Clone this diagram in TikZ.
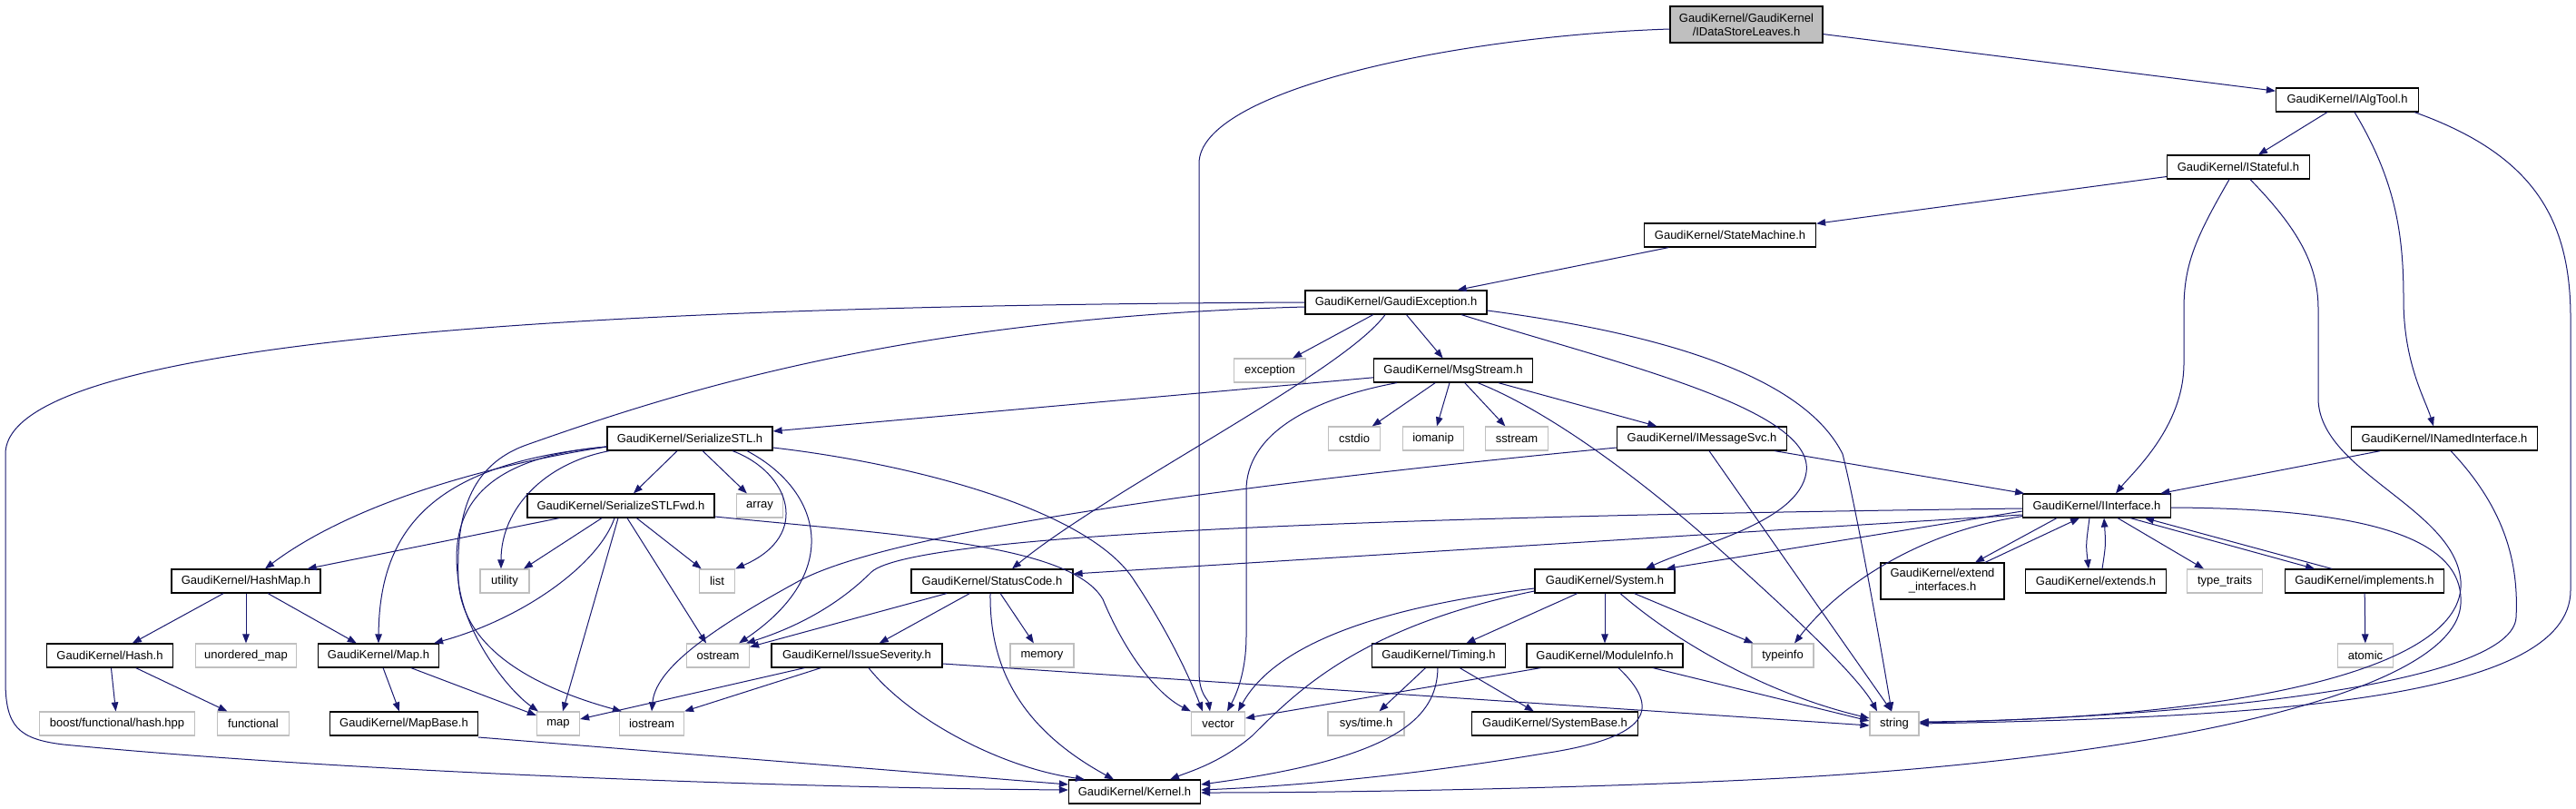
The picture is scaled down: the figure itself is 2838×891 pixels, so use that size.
\documentclass[tikz,border=0pt]{standalone}
\usepackage{fontspec}
\setmainfont{Liberation Sans}
\usetikzlibrary{arrows.meta,calc}
\definecolor{edgec}{HTML}{191970}
\definecolor{greyc}{HTML}{BFBFBF}
\begin{document}
\begin{tikzpicture}[x=1pt,y=-1pt,
  hdr/.style={draw=black,line width=1.2pt,fill=white,rectangle,inner sep=0pt,minimum height=26pt,font=\fontsize{13}{15}\selectfont},
  sys/.style={hdr,draw=greyc},
  e/.style={draw=edgec,line width=1pt,-{Triangle[length=10pt,width=7.5pt]}}]
\useasboundingbox (0,0) rectangle (2838,891);
\fill[white] (0,0) rectangle (2838,891);
% nodes
\node[hdr,fill=greyc,minimum width=168pt,minimum height=40pt,align=center] (root) at (1924,27) {GaudiKernel/GaudiKernel\\/IDataStoreLeaves.h};
\node[hdr,minimum width=157pt] (ialg) at (2586,110) {GaudiKernel/IAlgTool.h};
\node[hdr,minimum width=157pt] (istate) at (2466,184) {GaudiKernel/IStateful.h};
\node[hdr,minimum width=189pt] (smach) at (1906,259) {GaudiKernel/StateMachine.h};
\node[hdr,minimum width=200pt] (gexc) at (1538,333) {GaudiKernel/GaudiException.h};
\node[sys,minimum width=79pt] (exc) at (1399,408) {exception};
\node[hdr,minimum width=175pt] (msg) at (1601,408) {GaudiKernel/MsgStream.h};
\node[sys,minimum width=57pt] (cstdio) at (1492,483) {cstdio};
\node[sys,minimum width=67pt] (iomanip) at (1579,483) {iomanip};
\node[sys,minimum width=69pt] (sstream) at (1671,483) {sstream};
\node[hdr,minimum width=187pt] (imsg) at (1875,483) {GaudiKernel/IMessageSvc.h};
\node[hdr,minimum width=205pt] (inamed) at (2693,483) {GaudiKernel/INamedInterface.h};
\node[hdr,minimum width=182pt] (stl) at (760,483) {GaudiKernel/SerializeSTL.h};
\node[hdr,minimum width=206pt] (stlfwd) at (684,557) {GaudiKernel/SerializeSTLFwd.h};
\node[sys,minimum width=51pt] (array) at (837,557) {array};
\node[hdr,minimum width=163pt] (iint) at (2310,557) {GaudiKernel/IInterface.h};
\node[hdr,minimum width=164pt] (hashmap) at (271,640) {GaudiKernel/HashMap.h};
\node[sys,minimum width=54pt] (utility) at (556,640) {utility};
\node[sys,minimum width=39pt] (list) at (790,640) {list};
\node[hdr,minimum width=178pt] (status) at (1093,640) {GaudiKernel/StatusCode.h};
\node[hdr,minimum width=154pt] (system) at (1768,640) {GaudiKernel/System.h};
\node[hdr,minimum width=136pt,minimum height=40pt,align=center] (extint) at (2140,640) {GaudiKernel/extend\\\_interfaces.h};
\node[hdr,minimum width=155pt] (extends) at (2309,640) {GaudiKernel/extends.h};
\node[sys,minimum width=83pt] (typetraits) at (2451,640) {type\_traits};
\node[hdr,minimum width=175pt] (impl) at (2605,640) {GaudiKernel/implements.h};
\node[hdr,minimum width=139pt] (hash) at (121,722) {GaudiKernel/Hash.h};
\node[sys,minimum width=111pt] (umap) at (271,722) {unordered\_map};
\node[hdr,minimum width=133pt] (mapH) at (417,722) {GaudiKernel/Map.h};
\node[sys,minimum width=69pt] (ostream) at (791,722) {ostream};
\node[hdr,minimum width=188pt] (issue) at (944,722) {GaudiKernel/IssueSeverity.h};
\node[sys,minimum width=70pt] (memory) at (1148,722) {memory};
\node[hdr,minimum width=147pt] (timing) at (1585,722) {GaudiKernel/Timing.h};
\node[hdr,minimum width=172pt] (modinfo) at (1768,722) {GaudiKernel/ModuleInfo.h};
\node[sys,minimum width=68pt] (typeinfo) at (1964,722) {typeinfo};
\node[sys,minimum width=61pt] (atomic) at (2606,722) {atomic};
\node[sys,minimum width=171pt] (boost) at (129,797) {boost/functional/hash.hpp};
\node[sys,minimum width=79pt] (functional) at (279,797) {functional};
\node[hdr,minimum width=163pt] (mapbase) at (445,797) {GaudiKernel/MapBase.h};
\node[sys,minimum width=47pt] (map) at (615,797) {map};
\node[sys,minimum width=71pt] (iostream) at (718,797) {iostream};
\node[sys,minimum width=59pt] (vector) at (1342,797) {vector};
\node[sys,minimum width=84pt] (systime) at (1505,797) {sys/time.h};
\node[hdr,minimum width=183pt] (sysbase) at (1713,797) {GaudiKernel/SystemBase.h};
\node[sys,minimum width=54pt] (string) at (2087,797) {string};
\node[hdr,minimum width=145pt] (kernel) at (1250,872) {GaudiKernel/Kernel.h};
% root
\draw[e] (root) -- (ialg);
\draw[e] ($(root.west)+(0,5)$) .. controls (1600,40) and (1321,100) .. (1321,180) -- (1321,740) .. controls (1321,765) and (1331,770) .. ($(vector.north)+(-9,0)$);
% IAlgTool
\draw[e] (ialg) -- (istate);
\draw[e] ($(ialg.south)+(8,0)$) .. controls (2640,200) and (2648,260) .. (2648,330) .. controls (2648,400) and (2672,440) .. ($(inamed.north)+(-12,0)$);
\draw[e] ($(ialg.south east)+(-5,0)$) .. controls (2790,170) and (2832,240) .. (2832,350) -- (2832,650) .. controls (2832,770) and (2500,790) .. (string.east);
% IStateful
\draw[e] (istate) -- (smach);
\draw[e] ($(istate.south)+(-10,0)$) .. controls (2420,260) and (2406,290) .. (2406,340) -- (2406,400) .. controls (2406,470) and (2350,520) .. ($(iint.north)+(21,0)$);
\draw[e] ($(istate.south)+(13,0)$) .. controls (2530,250) and (2554,290) .. (2554,340) -- (2554,440) .. controls (2556,520) and (2705,560) .. (2711,640) .. controls (2718,740) and (2450,792) .. ($(string.east)+(0,-2)$);
% StateMachine
\draw[e] (smach) -- (gexc);
% GaudiException
\draw[e] (gexc) -- (exc);
\draw[e] (gexc) -- (msg);
\draw[e] ($(gexc.south)+(-12,0)$) .. controls (1480,410) and (1220,540) .. ($(status.north)+(22,0)$);
\draw[e] ($(gexc.south)+(72,0)$) .. controls (1780,400) and (2000,450) .. (1990,520) .. controls (1982,575) and (1870,600) .. ($(system.north)+(45,0)$);
\draw[e] ($(gexc.east)+(0,9)$) .. controls (1850,370) and (1990,420) .. (2030,500) .. controls (2045,560) and (2070,700) .. ($(string.north)+(-3,0)$);
\draw[e] (gexc.west) .. controls (800,336) and (6,360) .. (6,500) -- (6,750) .. controls (6,800) and (20,814) .. (70,820) .. controls (400,852) and (900,868) .. ($(kernel.west)+(0,-2)$);
\draw[e] ($(gexc.west)+(0,5)$) .. controls (1000,350) and (750,430) .. (580,490) .. controls (510,515) and (503,580) .. (505,640) .. controls (510,720) and (600,760) .. ($(iostream.north west)+(3,0)$);
% MsgStream
\draw[e] (msg) -- (stl);
\draw[e] (msg) -- (cstdio);
\draw[e] (msg) -- (iomanip);
\draw[e] (msg) -- (sstream);
\draw[e] (msg) -- (imsg);
\draw[e] ($(msg.south)+(-62,0)$) .. controls (1440,440) and (1373,480) .. (1373,540) -- (1373,700) .. controls (1373,740) and (1362,765) .. ($(vector.north)+(10,0)$);
\draw[e] ($(msg.south)+(27,0)$) .. controls (1700,450) and (1800,520) .. (1900,610) .. controls (1990,690) and (2050,750) .. ($(string.north)+(-19,0)$);
% IMessageSvc
\draw[e] ($(imsg.west)+(0,10)$) .. controls (1500,520) and (1000,575) .. (880,640) .. controls (770,700) and (722,740) .. (iostream.north);
\draw[e] ($(imsg.south)+(8,0)$) -- ($(string.north)+(-3,0)$);
\draw[e] (imsg) -- (iint);
% INamedInterface
\draw[e] (inamed) -- (iint);
\draw[e] ($(inamed.south)+(7,0)$) .. controls (2760,560) and (2775,620) .. (2772,680) .. controls (2768,750) and (2450,788) .. ($(string.east)+(0,-1)$);
% SerializeSTL
\draw[e] (stl) -- (stlfwd);
\draw[e] (stl) -- (array);
\draw[e] ($(stl.south)+(47,0)$) .. controls (870,520) and (895,590) .. (list.north east);
\draw[e] ($(stl.south)+(63,0)$) .. controls (905,540) and (930,630) .. ($(ostream.north east)+(-12,0)$);
\draw[e] ($(stl.east)+(0,10)$) .. controls (1000,510) and (1200,560) .. (1250,640) .. controls (1290,700) and (1312,750) .. ($(vector.north)+(-17,0)$);
\draw[e] ($(stl.west)+(0,9)$) .. controls (520,515) and (380,560) .. ($(hashmap.north)+(21,0)$);
\draw[e] ($(stl.west)+(0,9)$) .. controls (480,510) and (418,580) .. (mapH.north);
\draw[e] ($(stl.west)+(0,9)$) .. controls (520,505) and (495,570) .. (505,640) .. controls (512,700) and (560,760) .. ($(map.north west)+(2,0)$);
\draw[e] ($(stl.south west)+(3,0)$) .. controls (600,510) and (552,560) .. ($(utility.north)+(-4,0)$);
% SerializeSTLFwd
\draw[e] (stlfwd) -- (hashmap);
\draw[e] (stlfwd) -- (utility);
\draw[e] ($(stlfwd.south)+(-7,0)$) .. controls (660,620) and (580,680) .. ($(mapH.north east)+(-6,0)$);
\draw[e] ($(stlfwd.south)+(-3,0)$) -- ($(map.north)+(5,0)$);
\draw[e] ($(stlfwd.south)+(7,0)$) -- ($(ostream.north)+(-13,0)$);
\draw[e] (stlfwd) -- (list);
\draw[e] ($(stlfwd.east)+(0,12)$) .. controls (1000,590) and (1180,600) .. (1215,660) .. controls (1240,720) and (1275,765) .. (vector.north west);
% HashMap, Hash, Map, MapBase
\draw[e] (hashmap) -- (hash);
\draw[e] (hashmap) -- (umap);
\draw[e] (hashmap) -- (mapH);
\draw[e] (hash) -- (boost);
\draw[e] (hash) -- (functional);
\draw[e] (mapH) -- (mapbase);
\draw[e] (mapH) -- (map);
\draw[e] ($(mapbase.east)+(0,15)$) -- ($(kernel.west)+(0,-8)$);
% StatusCode
\draw[e] (status) -- (ostream);
\draw[e] (status) -- (issue);
\draw[e] (status) -- (memory);
\draw[e] ($(status.south)+(-2,0)$) .. controls (1090,730) and (1120,800) .. ($(kernel.north)+(-23,0)$);
% IssueSeverity
\draw[e] ($(issue.south west)+(37,0)$) -- ($(map.east)+(0,-5)$);
\draw[e] ($(issue.south west)+(55,0)$) -- (iostream.north east);
\draw[e] ($(issue.south)+(13,0)$) .. controls (1000,790) and (1100,845) .. ($(kernel.north)+(-55,0)$);
\draw[e] ($(issue.east)+(0,9)$) -- ($(string.west)+(0,2)$);
% System
\draw[e] (system) -- (timing);
\draw[e] (system) -- (modinfo);
\draw[e] (system) -- (typeinfo);
\draw[e] ($(system.south)+(17,0)$) .. controls (1850,710) and (1950,765) .. ($(string.west)+(0,-6)$);
\draw[e] ($(system.west)+(0,8)$) .. controls (1550,665) and (1410,700) .. ($(vector.north)+(22,0)$);
\draw[e] ($(system.west)+(0,11)$) .. controls (1500,690) and (1430,760) .. (1380,810) .. controls (1345,840) and (1310,850) .. ($(kernel.north)+(39,0)$);
% Timing
\draw[e] (timing) -- (systime);
\draw[e] (timing) -- (sysbase);
\draw[e] ($(timing.south)+(-1,0)$) .. controls (1583,790) and (1540,835) .. ($(kernel.east)+(0,-8)$);
% ModuleInfo
\draw[e] ($(modinfo.south west)+(16,0)$) -- ($(vector.east)+(0,-6)$);
\draw[e] ($(modinfo.south)+(53,0)$) -- ($(string.west)+(0,-3)$);
\draw[e] ($(modinfo.south)+(15,0)$) .. controls (1830,780) and (1820,812) .. (1700,830) .. controls (1550,855) and (1420,866) .. ($(kernel.east)+(0,-2)$);
% IInterface
\draw[e] ($(iint.west)+(0,3)$) .. controls (1600,568) and (1010,585) .. (960,630) .. controls (925,665) and (880,690) .. ($(ostream.north east)+(-4,0)$);
\draw[e] ($(iint.west)+(0,10)$) -- ($(status.east)+(0,-8)$);
\draw[e] ($(iint.west)+(0,6)$) -- ($(system.north east)+(-10,0)$);
\draw[e] ($(iint.south west)+(0,-2)$) .. controls (2120,585) and (2030,640) .. ($(typeinfo.north)+(13,0)$);
\draw[e] ($(iint.south)+(-44,0)$) -- ($(extint.north)+(36,0)$);
\draw[e] ($(extint.north)+(47,0)$) -- ($(iint.south)+(-19,0)$);
\draw[e] ($(iint.south)+(-8,0)$) .. controls (2298,600) .. ($(extends.north)+(-8,0)$);
\draw[e] ($(extends.north)+(7,0)$) .. controls (2320,600) .. ($(iint.south)+(8,0)$);
\draw[e] (iint) -- (typetraits);
\draw[e] ($(iint.south)+(37,0)$) -- ($(impl.north)+(-55,0)$);
\draw[e] ($(impl.north)+(-36,0)$) -- ($(iint.south)+(53,0)$);
\draw[e] ($(iint.east)+(0,2)$) .. controls (2600,560) and (2715,590) .. (2711,665) .. controls (2706,760) and (2400,830) .. (2000,855) .. controls (1800,867) and (1500,873) .. ($(kernel.east)+(0,1)$);
% implements
\draw[e] (impl) -- (atomic);
\end{tikzpicture}
\end{document}
